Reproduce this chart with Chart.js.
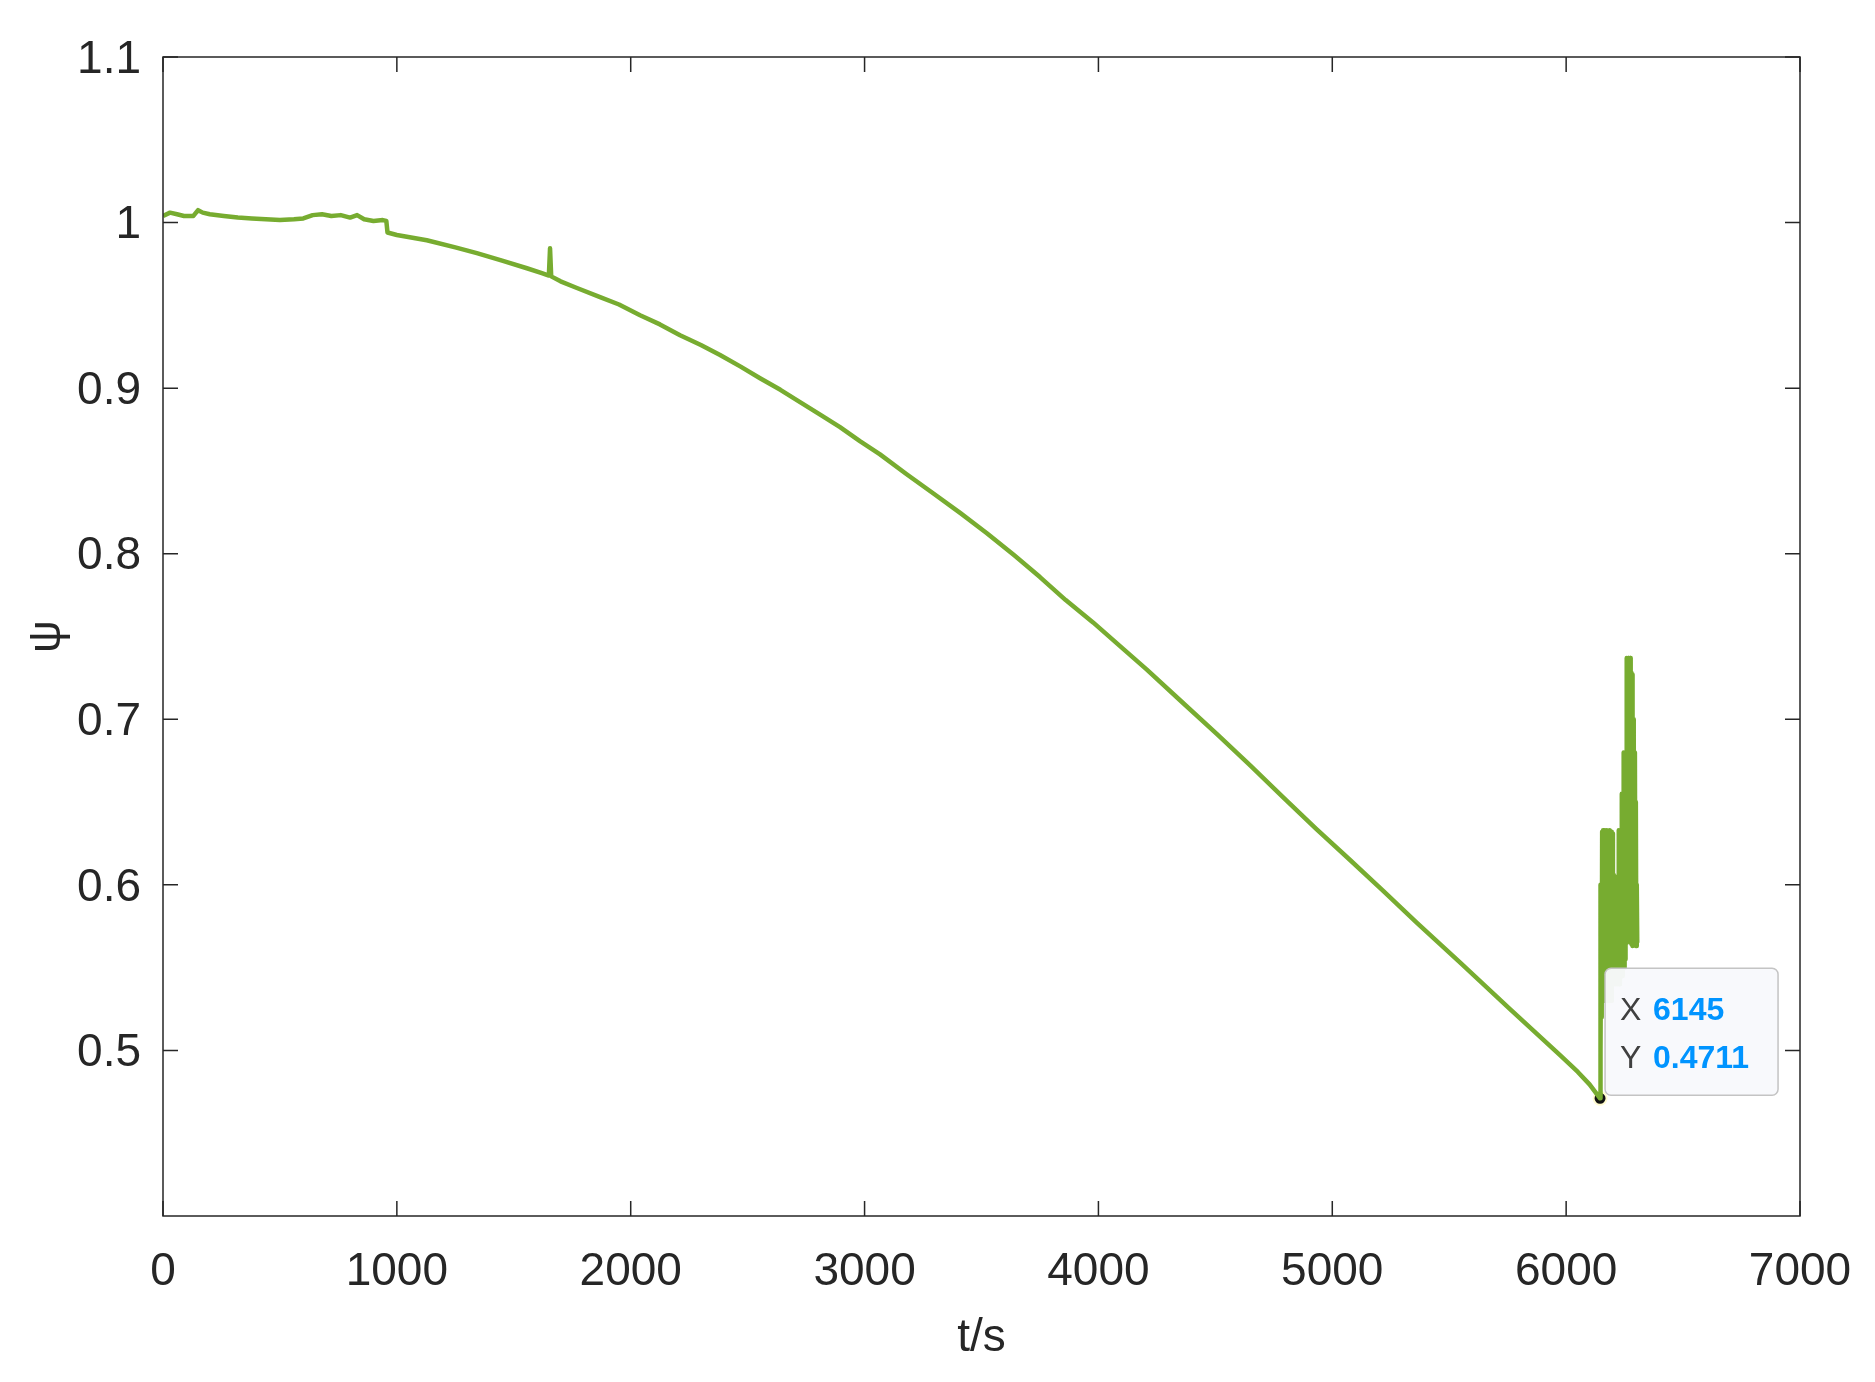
<!DOCTYPE html>
<html>
<head>
<meta charset="utf-8">
<script src="https://cdn.jsdelivr.net/npm/chart.js@4.4.0/dist/chart.umd.min.js"></script>
<style>
  body { margin: 0; background: #fff; }
</style>
</head>
<body>
<canvas id="graf" width="1875" height="1382"></canvas>
<script>
// curva principal
const tMain = [0, 30, 60, 90, 130, 150, 170, 200, 260, 320, 380, 440, 500, 560, 600, 640, 680, 720, 760, 800, 830, 860, 900, 940, 955,
  960, 1000, 1128, 1250, 1342, 1450, 1556, 1620, 1650, 1655, 1660, 1700, 1770, 1869, 1950, 2040, 2125, 2211, 2300, 2382, 2470, 2553, 2640, 2724,
  2810, 2895, 2980, 3066, 3180, 3293, 3410, 3523, 3640, 3750, 3860, 3977, 4090, 4207, 4349, 4507, 4650, 4789, 4930, 5076, 5220, 5362,
  5547, 5760, 5975, 6050, 6100, 6145]
const psiMain = [1.004, 1.006, 1.005, 1.004, 1.004, 1.0075, 1.006, 1.005, 1.004, 1.003, 1.0025, 1.002, 1.0015, 1.002, 1.0025, 1.0045, 1.005, 1.004, 1.0045, 1.003, 1.0045, 1.002, 1.001, 1.0015, 1.001,
  0.994, 0.9925, 0.9893, 0.985, 0.9815, 0.977, 0.9724, 0.9695, 0.968, 0.9845, 0.9675, 0.9645, 0.9605, 0.955, 0.9505, 0.944, 0.9385, 0.932, 0.926, 0.920, 0.913, 0.906, 0.899, 0.8916,
  0.884, 0.8764, 0.868, 0.860, 0.848, 0.8365, 0.8245, 0.8124, 0.799, 0.7859, 0.772, 0.7585, 0.7445, 0.730, 0.7115, 0.691, 0.672, 0.653, 0.634, 0.615, 0.596, 0.577,
  0.553, 0.525, 0.497, 0.487, 0.4795, 0.4711]

// trecho oscilante no fim
const tNoise = [6146, 6148, 6150, 6152, 6154, 6156, 6158, 6160, 6162, 6164, 6166, 6168, 6170, 6172, 6174, 6176, 6178, 6180, 6182, 6184,
  6186, 6188, 6190, 6192, 6194, 6196, 6198, 6200, 6202, 6204, 6206, 6208, 6210, 6212, 6214, 6216, 6218, 6220, 6222, 6224,
  6226, 6228, 6230, 6232, 6234, 6236, 6238, 6240, 6242, 6244, 6246, 6248, 6250, 6252, 6254, 6256, 6258, 6260, 6262, 6264,
  6266, 6268, 6270, 6272, 6274, 6276, 6278, 6280, 6282, 6284, 6286, 6288, 6290, 6292, 6294, 6296, 6298, 6300, 6302, 6304]
const psiNoise = [0.600, 0.50, 0.600, 0.52, 0.632, 0.53, 0.633, 0.54, 0.630, 0.53, 0.633, 0.54, 0.625, 0.53, 0.633, 0.54, 0.632, 0.53, 0.628, 0.54,
  0.633, 0.53, 0.630, 0.54, 0.632, 0.53, 0.631, 0.54, 0.606, 0.54, 0.605, 0.545, 0.598, 0.54, 0.594, 0.545, 0.593, 0.54, 0.600, 0.545,
  0.633, 0.54, 0.632, 0.545, 0.633, 0.55, 0.655, 0.545, 0.654, 0.55, 0.680, 0.55, 0.678, 0.555, 0.680, 0.565, 0.737, 0.568, 0.736, 0.566,
  0.737, 0.567, 0.735, 0.566, 0.737, 0.565, 0.728, 0.564, 0.727, 0.563, 0.700, 0.564, 0.690, 0.565, 0.680, 0.565, 0.650, 0.563, 0.600, 0.565]

const xTicks = [0, 1000, 2000, 3000, 4000, 5000, 6000, 7000]
const yTicks = [0.5, 0.6, 0.7, 0.8, 0.9, 1, 1.1]

const tipT = 6145
const tipPsi = 0.4711

const corEixo = '#262626'
const fonte = '"Liberation Sans", Arial, sans-serif'

const pontos = tMain.map((t, i) => ({x: t, y: psiMain[i]}))
  .concat(tNoise.map((t, i) => ({x: t, y: psiNoise[i]})))

const moldura = {
  id: 'moldura',
  afterDatasetsDraw(chart) {
    const {ctx, chartArea: a, scales} = chart
    ctx.save()
    ctx.strokeStyle = corEixo
    ctx.lineWidth = 1.5
    ctx.strokeRect(a.left, a.top, a.right - a.left, a.bottom - a.top)
    ctx.beginPath()
    xTicks.forEach(v => {
      const px = scales.x.getPixelForValue(v)
      ctx.moveTo(px, a.bottom); ctx.lineTo(px, a.bottom - 15)
      ctx.moveTo(px, a.top); ctx.lineTo(px, a.top + 15)
    })
    yTicks.forEach(v => {
      const py = scales.y.getPixelForValue(v)
      ctx.moveTo(a.left, py); ctx.lineTo(a.left + 15, py)
      ctx.moveTo(a.right, py); ctx.lineTo(a.right - 15, py)
    })
    ctx.stroke()
    ctx.restore()
  },
  afterDraw(chart) {
    // caixa do datatip
    const {ctx, scales} = chart
    const px = scales.x.getPixelForValue(tipT)
    const py = scales.y.getPixelForValue(tipPsi)
    const left = px + 5, top = py - 130, w = 173, h = 127
    ctx.save()
    ctx.beginPath()
    ctx.roundRect(left, top, w, h, 6)
    ctx.fillStyle = 'rgba(248,249,252,0.96)'
    ctx.fill()
    ctx.strokeStyle = '#c4c4c4'
    ctx.lineWidth = 1.5
    ctx.stroke()
    ctx.textBaseline = 'alphabetic'
    ctx.font = '32px ' + fonte
    ctx.fillStyle = '#404040'
    ctx.fillText('X', left + 15, top + 52)
    ctx.fillText('Y', left + 15, top + 100)
    ctx.font = 'bold 32px ' + fonte
    ctx.fillStyle = 'rgb(0,148,255)'
    ctx.fillText(String(tipT), left + 48, top + 52)
    ctx.fillText(tipPsi.toFixed(4), left + 48, top + 100)
    ctx.restore()
  }
}

new Chart(document.getElementById('graf').getContext('2d'), {
  type: 'line',
  data: {
    datasets: [{
      data: pontos,
      borderColor: '#77AC30',
      borderWidth: 4.5,
      borderJoinStyle: 'round',
      pointRadius: 0,
      tension: 0,
      fill: false
    }, {
      type: 'scatter',
      data: [{x: tipT, y: tipPsi}],
      pointRadius: 6.5,
      pointBackgroundColor: '#111',
      pointBorderColor: '#fffbd0',
      pointBorderWidth: 2
    }]
  },
  options: {
    responsive: false,
    animation: false,
    layout: { padding: { left: 0, top: 57, right: 75, bottom: 0 } },
    plugins: { legend: { display: false }, tooltip: { enabled: false } },
    scales: {
      x: {
        type: 'linear',
        min: 0,
        max: 7000,
        afterFit(s) {
          s.height = 166
          s.paddingLeft = 0
          s.paddingRight = 0
        },
        afterBuildTicks(s) { s.ticks = xTicks.map(v => ({value: v})) },
        grid: { display: false, drawTicks: false },
        border: { display: false },
        ticks: {
          padding: 29,
          color: corEixo,
          font: { family: fonte, size: 46 },
          maxRotation: 0,
          callback: v => String(v)
        },
        title: {
          display: true,
          text: 't/s',
          color: corEixo,
          font: { family: fonte, size: 46 },
          padding: { top: 0, bottom: 16 }
        }
      },
      y: {
        min: 0.4,
        max: 1.1,
        afterFit(s) { s.width = 163 },
        afterBuildTicks(s) { s.ticks = yTicks.map(v => ({value: v})) },
        grid: { display: false, drawTicks: false },
        border: { display: false },
        ticks: {
          padding: 22,
          labelOffset: 3,
          color: corEixo,
          font: { family: fonte, size: 46 },
          callback: v => String(Math.round(v * 10) / 10)
        },
        title: {
          display: true,
          text: 'ψ',
          color: corEixo,
          font: { family: fonte, size: 46 },
          padding: { top: 20 }
        }
      }
    }
  },
  plugins: [moldura]
})
</script>
</body>
</html>
